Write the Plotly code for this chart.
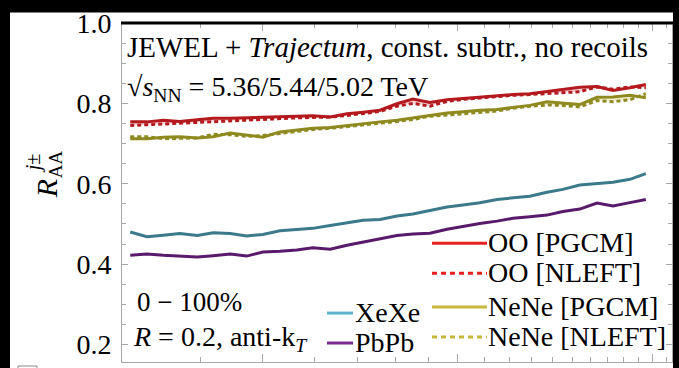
import plotly.graph_objects as go
import math

# ---------------- data ----------------
pt = [31.2, 33.1, 35.1, 37.2, 39.6, 41.9, 44.5, 47.2, 50.0, 53.1, 56.4, 59.7,
      63.5, 67.4, 71.4, 75.8, 80.5, 85.2, 90.5, 96.2, 101.8, 108.1, 114.9, 121.6,
      129.1, 137.2, 145.2, 154.2, 163.9, 173.5, 184.3, 195.0]

xexe = [0.480, 0.468, 0.472, 0.476, 0.471, 0.478, 0.476, 0.470, 0.474, 0.483, 0.486, 0.489,
        0.496, 0.502, 0.509, 0.511, 0.520, 0.525, 0.534, 0.542, 0.547, 0.553, 0.561, 0.565,
        0.569, 0.579, 0.586, 0.597, 0.600, 0.604, 0.611, 0.625]

pbpb = [0.422, 0.425, 0.422, 0.420, 0.418, 0.421, 0.425, 0.420, 0.430, 0.432, 0.435, 0.441,
        0.437, 0.447, 0.455, 0.462, 0.471, 0.475, 0.477, 0.487, 0.494, 0.501, 0.507, 0.514,
        0.518, 0.522, 0.531, 0.537, 0.552, 0.545, 0.553, 0.561]

oo_pgcm = [0.754, 0.754, 0.758, 0.755, 0.759, 0.763, 0.763, 0.764, 0.766, 0.766, 0.768, 0.769,
           0.766, 0.774, 0.778, 0.783, 0.799, 0.811, 0.802, 0.809, 0.812, 0.816, 0.819, 0.822,
           0.824, 0.829, 0.834, 0.840, 0.842, 0.832, 0.839, 0.847]

oo_nleft = [0.745, 0.747, 0.749, 0.750, 0.752, 0.754, 0.757, 0.759, 0.760, 0.762, 0.764, 0.765,
            0.766, 0.770, 0.775, 0.780, 0.793, 0.800, 0.793, 0.805, 0.810, 0.814, 0.817, 0.820,
            0.822, 0.825, 0.827, 0.829, 0.841, 0.835, 0.841, 0.839]

nene_pgcm = [0.712, 0.712, 0.716, 0.717, 0.714, 0.717, 0.726, 0.721, 0.716, 0.729, 0.734, 0.738,
             0.740, 0.745, 0.749, 0.754, 0.758, 0.764, 0.770, 0.776, 0.779, 0.783, 0.785, 0.789,
             0.795, 0.804, 0.801, 0.797, 0.815, 0.816, 0.820, 0.814]

nene_nleft = [0.717, 0.717, 0.712, 0.713, 0.714, 0.723, 0.722, 0.718, 0.720, 0.725, 0.730, 0.735,
              0.738, 0.742, 0.747, 0.751, 0.755, 0.760, 0.768, 0.771, 0.774, 0.776, 0.781, 0.788,
              0.793, 0.796, 0.795, 0.791, 0.807, 0.804, 0.809, 0.824]

y_ticks = [0.2, 0.4, 0.6, 0.8, 1.0]
y_ticktext = ["0.2", "0.4", "0.6", "0.8", "1.0"]
y_minor = [0.20 + 0.05 * i for i in range(17)]
x_major = [50, 100, 200]
x_minor = [40, 60, 70, 80, 90, 110, 120, 130, 140, 150, 160, 170, 180, 190, 210]

# ---------------- layout helpers ----------------
W, H = 679, 368
L, R, T, B = 122, 672, 22.5, 362


def px(x):
    return (x - L) / (R - L)


def py(y):
    return (B - y) / (B - T)


FONT = "Liberation Serif, Times New Roman, DejaVu Serif, serif"
C_OO, C_OO_L = "#b3191d", "#e3221f"
C_NE, C_NE_L = "#8e8a20", "#c8b83a"
C_XE, C_XE_L = "#3b7a8b", "#5db4cb"
C_PB, C_PB_L = "#5a1a6b", "#7c2a92"

fig = go.Figure()

fig.add_trace(go.Scatter(x=pt, y=xexe, mode="lines", line=dict(color=C_XE, width=3), showlegend=False))
fig.add_trace(go.Scatter(x=pt, y=pbpb, mode="lines", line=dict(color=C_PB, width=3), showlegend=False))
fig.add_trace(go.Scatter(x=pt, y=nene_pgcm, mode="lines", line=dict(color=C_NE, width=3), showlegend=False))
fig.add_trace(go.Scatter(x=pt, y=nene_nleft, mode="lines", line=dict(color=C_NE, width=3, dash="4px,3px"),
                         fill="tonexty", fillcolor="rgba(215,205,110,0.35)", showlegend=False))
fig.add_trace(go.Scatter(x=pt, y=oo_pgcm, mode="lines", line=dict(color=C_OO, width=3), showlegend=False))
fig.add_trace(go.Scatter(x=pt, y=oo_nleft, mode="lines", line=dict(color=C_OO, width=3, dash="4px,3px"),
                         fill="tonexty", fillcolor="rgba(235,120,130,0.35)", showlegend=False))

shapes = []
# white panel on black paper
shapes.append(dict(type="rect", xref="paper", yref="paper", x0=px(10), x1=px(673), y0=py(12), y1=py(380),
                   fillcolor="white", line=dict(width=0), layer="below"))
# thick top frame line
shapes.append(dict(type="line", xref="paper", yref="paper", x0=px(L - 1), x1=px(R + 1), y0=1, y1=1,
                   line=dict(color="black", width=3)))
# small box at bottom-left
shapes.append(dict(type="rect", xref="paper", yref="paper", x0=px(18), x1=px(37), y0=py(366), y1=py(375),
                   line=dict(color="#888888", width=1), fillcolor="white"))

annotations = []


def text(x, y, s, size=27, anchor="left", angle=0):
    annotations.append(dict(x=px(x), y=py(y), xref="paper", yref="paper", text=s, showarrow=False,
                            xanchor=anchor, yanchor="middle", textangle=angle,
                            font=dict(family=FONT, size=size, color="black")))


text(125, 47, "JEWEL + <i>Trajectum</i>, const. subtr., no recoils", 29)
text(125, 88, "√<i>s</i><sub>NN</sub> = 5.36/5.44/5.02 TeV", 28)
text(135, 302, "0 − 100%", 27)
text(131, 338, "<i>R</i> = 0.2, anti-k<sub><i>T</i></sub>", 28)

# left legend
leg1 = [("XeXe", C_XE_L, "solid", 313), ("PbPb", C_PB_L, "solid", 343)]
for name, col, dash, yy in leg1:
    shapes.append(dict(type="line", xref="paper", yref="paper", x0=px(327), x1=px(353), y0=py(yy), y1=py(yy),
                       line=dict(color=col, width=3, dash=dash)))
    text(353, yy - 1, name, 28)

# right legend
leg2 = [("OO [PGCM]", C_OO_L, "solid", 243), ("OO [NLEFT]", C_OO_L, "5px,4px", 273),
        ("NeNe [PGCM]", C_NE_L, "solid", 307), ("NeNe [NLEFT]", C_NE_L, "5px,4px", 337)]
for name, col, dash, yy in leg2:
    shapes.append(dict(type="line", xref="paper", yref="paper", x0=px(432), x1=px(487), y0=py(yy), y1=py(yy),
                       line=dict(color=col, width=3, dash=dash)))
    text(486, yy - 1, name, 28)

# y-axis title, built as R with stacked superscript / subscript
text(46, 189, "<i>R</i>", 30, anchor="center", angle=-90)
text(33, 163, "<i>j</i>±", 20, anchor="center", angle=-90)
text(55, 164, "AA", 19, anchor="center", angle=-90)

fig.update_layout(
    width=W, height=H,
    margin=dict(l=L, r=W - R, t=T, b=H - B),
    paper_bgcolor="black",
    plot_bgcolor="white",
    shapes=shapes,
    annotations=annotations,
    showlegend=False,
    font=dict(family=FONT),
    xaxis=dict(type="log", range=[math.log10(30.3), math.log10(214)], showline=True, linecolor="#a8a8a8",
               linewidth=1, mirror="ticks", ticks="inside", ticklen=8, tickcolor="#a8a8a8", tickwidth=1,
               tickvals=x_major, showticklabels=False, showgrid=False, zeroline=False,
               minor=dict(tickvals=x_minor, ticks="inside", ticklen=5, tickcolor="#a8a8a8", showgrid=False)),
    yaxis=dict(range=[0.1565, 1.0], showline=True, linecolor="#a8a8a8", linewidth=1, mirror="ticks",
               ticks="inside", ticklen=6, tickcolor="#a8a8a8", tickwidth=1, tickvals=y_ticks,
               ticktext=y_ticktext, tickfont=dict(family=FONT, size=28, color="black"),
               showgrid=False, zeroline=False, ticklabelstandoff=4,
               minor=dict(tickvals=y_minor, ticks="inside", ticklen=4, tickcolor="#a8a8a8", showgrid=False)),
)

fig.write_html("out.html")
